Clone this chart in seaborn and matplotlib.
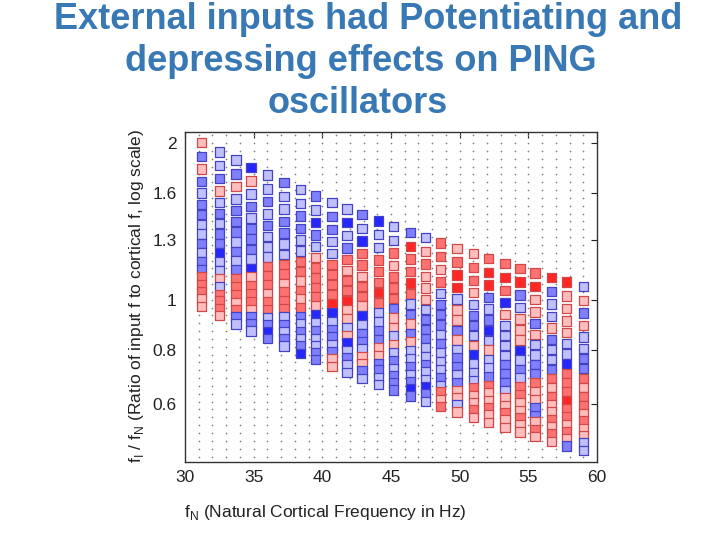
import numpy as np
import pandas as pd
import matplotlib
matplotlib.use("Agg")
import matplotlib.pyplot as plt
from matplotlib.ticker import NullLocator
import seaborn as sns

# natural cortical frequency of each simulated network (Hz), one column of squares each
natural_freq = [31.2, 32.5, 33.7, 34.8, 36.0, 37.2, 38.4, 39.5, 40.7, 41.8, 42.9, 44.1,
                45.2, 46.4, 47.5, 48.6, 49.8, 51.0, 52.1, 53.3, 54.4, 55.5, 56.7, 57.8, 59.0]

# input frequencies given to every network (Hz), top row to bottom row
input_freq = [62.5, 58.8, 55.6, 52.6, 50.0, 47.6, 45.5, 43.5, 41.7, 40.0, 38.5, 37.0,
              35.7, 34.5, 33.3, 32.3, 31.3, 30.3]

# effect of each input, one string per network, one letter per input frequency
# R / r / p = strong / medium / weak potentiation, B / b / l = strong / medium / weak depression
effects = [
    "pbpblbbllblbbrrrpp",
    "llbplblbbBllplrrrp",
    "lbplbbblblbrrrprbl",
    "BplblbbblBprrrpbbl",
    "llblblllrrrprrlbBb",
    "bllbbllrrprrrlblbl",
    "llbbllrrprprblblbB",
    "blBblprrrrpBlbllbb",
    "lbbllrrrrRBlbblbpp",
    "lBlbrprrRpplpBlbll",
    "blBrrprrpBlbblppbl",
    "BllrrrRrllbbppbbll",
    "llrprrrbpplplblbbb",
    "bRrrRrlbpbpllblbBb",
    "lprppplbbbllbllBbl",
    "rrprlbbblblllblrpr",
    "prRRlppbplbblbpplp",
    "prrplbblpBlllrpprp",
    "rRRblbBlpllbrpprpp",
    "rRrBpllllbbblpprpp",
    "rRblpppBlblrrpprpp",
    "rRppbpllbbrppbbprp",
    "Rbllpbllbrprpprprp",
    "RppppllBrrrRrrprpb",
    "lpbpllbbrprrprppll",
]

effect_levels = {"R": 0.85, "r": 0.55, "p": 0.25, "B": -0.85, "b": -0.5, "l": -0.25}

x_ticks = [30, 35, 40, 45, 50, 55, 60]
y_ticks = [0.63, 0.8, 1.0, 1.3, 1.6, 2.0]
y_tick_labels = ["0.6", "0.8", "1", "1.3", "1.6", "2"]

title_lines = ["External inputs had Potentiating and",
               "depressing effects on PING",
               "oscillators"]

# long table: one row per (network, input) pair
rows = []
for fn, codes in zip(natural_freq, effects):
    for fi, c in zip(input_freq, codes):
        rows.append({"fN": fn, "ratio": fi / fn, "effect": effect_levels[c]})
df = pd.DataFrame(rows)
df["edge"] = np.where(df["effect"] > 0, "#d04848", "#4343c4")

sns.set_style("white")
plt.rcParams["font.family"] = ["Liberation Sans", "DejaVu Sans"]

fig = plt.figure(figsize=(7.2, 5.4), dpi=100)
ax = fig.add_axes([185 / 720, 1 - 462 / 540, 412 / 720, 330 / 540])

# faint dot lattice behind the squares
gx, gy = np.meshgrid(np.arange(31, 60), 2 ** (np.arange(-20, 22) / 20))
ax.scatter(gx.ravel(), gy.ravel(), s=1.5, color="#808080", linewidths=0, zorder=1)

sns.scatterplot(data=df, x="fN", y="ratio", hue="effect", palette="bwr", hue_norm=(-1, 1),
                marker="s", s=46, edgecolor=df["edge"].tolist(), linewidth=0.9,
                legend=False, ax=ax, zorder=3)

ax.set_yscale("log")
ax.set_xlim(30, 60)
ax.set_ylim(0.488, 2.1)
ax.set_xticks(x_ticks)
ax.set_yticks(y_ticks)
ax.set_yticklabels(y_tick_labels)
ax.yaxis.set_minor_locator(NullLocator())
ax.tick_params(direction="in", top=True, right=True, length=4, width=0.8,
               labelsize=12.5, pad=6, colors="#222222")
for sp in ax.spines.values():
    sp.set_linewidth(1.0)
    sp.set_color("#333333")
ax.set_xlabel("")
ax.set_ylabel("")

fig.text(184 / 720, 1 - 517 / 540, r"f$_\mathregular{N}$ (Natural Cortical Frequency in Hz)",
         fontsize=12.5, color="#222222", ha="left", va="baseline")
fig.text(136 / 720, 1 - 296 / 540,
         r"f$_\mathregular{I}$ / f$_\mathregular{N}$ (Ratio of input f to cortical f, log scale)",
         fontsize=12.5, color="#222222", ha="center", va="center", rotation=90)

title_color = "#3878b4"
for line, yb, xc in zip(title_lines, [29, 71, 113], [368, 361, 358]):
    fig.text(xc / 720, 1 - yb / 540, line, fontsize=26, fontweight="bold",
             color=title_color, ha="center", va="baseline")

fig.savefig("out.png", dpi=100, facecolor="white")
